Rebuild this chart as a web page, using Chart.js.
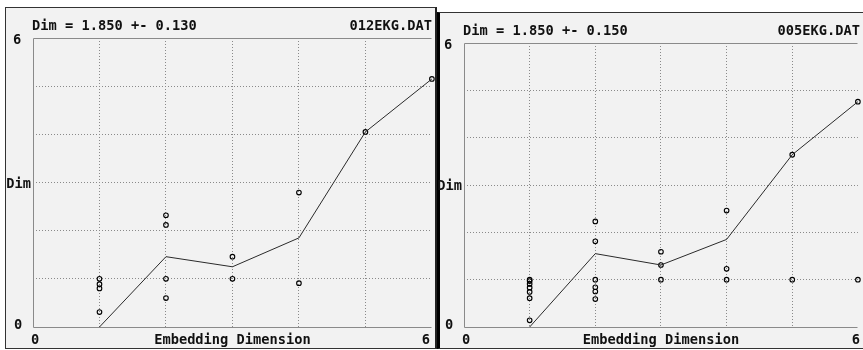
<!DOCTYPE html>
<html><head><meta charset="utf-8">
<script src="https://cdn.jsdelivr.net/npm/chart.js@4.4.1/dist/chart.umd.min.js"></script>
<style>
html,body{margin:0;padding:0;background:#fff;width:863px;height:350px;overflow:hidden;}
.panel{position:absolute;background:#f2f2f2;box-sizing:border-box;}
#p1{left:5px;top:7px;width:432px;height:342px;border-left:1px solid #333;border-top:1px solid #333;border-right:2px solid #222;border-bottom:1px solid #333;}
#p2{left:437px;top:12px;width:426px;height:337px;border-left:3px solid #000;border-top:1px solid #333;border-bottom:1px solid #333;}
canvas{position:absolute;top:0;}
</style></head><body>
<div class="panel" id="p1"></div><div class="panel" id="p2"></div>
<canvas id="c1" width="437" height="350" style="left:0"></canvas>
<canvas id="c2" width="426" height="350" style="left:437px"></canvas>
<script>
// ---- data ----
const dims = [1, 2, 3, 4, 5, 6];
const meanA = [0, 1.46, 1.25, 1.85, 4.05, 5.15];
const meanB = [0, 1.55, 1.31, 1.85, 3.64, 4.76];

const ptsAx = [1, 1, 1, 1, 2, 2, 2, 2, 3, 3, 4, 4, 5, 6];
const ptsAy = [1.0, 0.89, 0.80, 0.31, 2.32, 2.12, 1.0, 0.60, 1.46, 1.0, 2.79, 0.91, 4.05, 5.15];

const ptsBx = [1, 1, 1, 1, 1, 1, 1, 2, 2, 2, 2, 2, 2, 3, 3, 3, 4, 4, 4, 5, 5, 6, 6];
const ptsBy = [1.0, 0.97, 0.91, 0.83, 0.74, 0.61, 0.14, 2.23, 1.81, 1.0, 0.84, 0.75, 0.59, 1.59, 1.31, 1.0, 2.46, 1.23, 1.0, 3.64, 1.0, 4.76, 1.0];

const titleA = 'Dim = 1.850 +- 0.130';
const fileA = '012EKG.DAT';
const titleB = 'Dim = 1.850 +- 0.150';
const fileB = '005EKG.DAT';

const yLabels = ['0', 'Dim', '6'];           // at y = 0, 3, 6
const xLabels = ['0', 'Embedding Dimension', '6']; // at x = 0, 3, 6
const axisMin = 0, axisMax = 6;

// ---- drawing ----
const FONT = 'bold 13.7px "DejaVu Sans Mono", monospace';
const gridColor = (c) => (c.tick && (c.tick.value === axisMin || c.tick.value === axisMax)) ? 'rgba(0,0,0,0)' : '#8a8a8a';

const framePlugin = {
  id: 'frame',
  beforeDatasetsDraw(chart) {
    const { ctx, chartArea: a } = chart;
    ctx.save();
    ctx.strokeStyle = '#8a8a8a';
    ctx.lineWidth = 1;
    const l = Math.round(a.left) + 0.5, t = Math.round(a.top) + 0.5;
    const r = Math.round(a.right) - 0.5, b = Math.round(a.bottom) + 0.5;
    ctx.beginPath();
    ctx.moveTo(r, t); ctx.lineTo(l, t); ctx.lineTo(l, b); ctx.lineTo(r, b);
    ctx.stroke();
    ctx.restore();
  },
  afterDraw(chart, args, opts) {
    const { ctx, chartArea: a, scales: { x, y } } = chart;
    ctx.save();
    ctx.fillStyle = '#111';
    ctx.font = FONT;
    ctx.textBaseline = 'middle';
    // title line
    ctx.textAlign = 'left';
    ctx.fillText(opts.title, a.left - 1, a.top - 12);
    ctx.textAlign = 'right';
    ctx.fillText(opts.file, a.right + opts.fileDx, a.top - 12);
    // y labels
    ctx.textAlign = 'center';
    ctx.fillText(yLabels[2], a.left - 16, y.getPixelForValue(6) + 2);
    ctx.fillText(yLabels[0], a.left - 15, y.getPixelForValue(0) - 2);
    ctx.textAlign = 'right';
    ctx.fillText(yLabels[1], a.left - 2, y.getPixelForValue(3) + 1.5);
    // x labels
    const xb = a.bottom + 13;
    ctx.textAlign = 'center';
    ctx.fillText(xLabels[0], x.getPixelForValue(0) + 2, xb);
    ctx.fillText(xLabels[1], x.getPixelForValue(3), xb);
    ctx.textAlign = 'right';
    ctx.fillText(xLabels[2], x.getPixelForValue(6) + opts.sixDx, xb);
    ctx.restore();
  }
};

function makeChart(id, mean, px, py, title, file, pad, fileDx, sixDx) {
  const mkAxis = () => ({
    type: 'linear', min: axisMin, max: axisMax,
    ticks: { display: false, stepSize: 1 },
    grid: { drawTicks: false, color: gridColor, lineWidth: 1 },
    border: { display: false, dash: [1, 2] }
  });
  return new Chart(document.getElementById(id), {
    type: 'scatter',
    data: {
      datasets: [
        {
          data: dims.map((d, i) => ({ x: d, y: mean[i] })),
          showLine: true, borderColor: '#2a2a2a', borderWidth: 1,
          pointRadius: 0, tension: 0, clip: false
        },
        {
          data: px.map((d, i) => ({ x: d, y: py[i] })),
          showLine: false, pointStyle: 'circle', pointRadius: 2.3,
          pointBorderWidth: 1.1, pointBorderColor: '#000',
          pointBackgroundColor: 'rgba(0,0,0,0)', clip: false
        }
      ]
    },
    options: {
      responsive: false, animation: false, events: [],
      layout: { padding: pad },
      plugins: { legend: { display: false }, tooltip: { enabled: false },
        frame: { title, file, fileDx, sixDx } },
      scales: { x: mkAxis(), y: mkAxis() }
    },
    plugins: [framePlugin]
  });
}

Chart.defaults.font.family = '"DejaVu Sans Mono", monospace';
makeChart('c1', meanA, ptsAx, ptsAy, titleA, fileA, { left: 33, right: 2, top: 38, bottom: 23 }, 0, -2);
makeChart('c2', meanB, ptsBx, ptsBy, titleB, fileB, { left: 27, right: 2, top: 43, bottom: 23 }, 2, 2);
</script>
</body></html>
